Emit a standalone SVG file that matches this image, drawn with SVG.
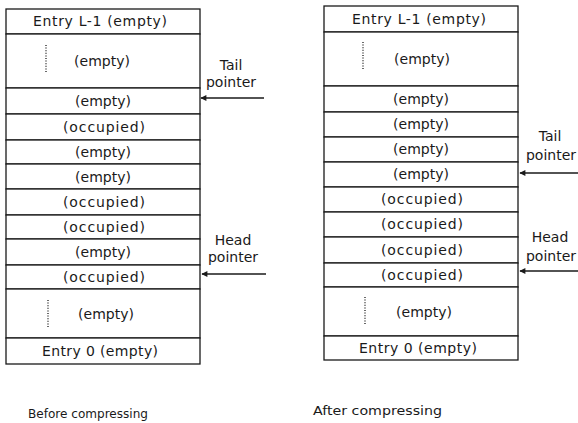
<svg xmlns="http://www.w3.org/2000/svg" width="578" height="423" viewBox="0 0 578 423">
  <style>
    .cell { fill: #ffffff; stroke: #1a1a1a; stroke-width: 1.3; }
    .lbl { font-family: "DejaVu Sans", "Liberation Sans", sans-serif; font-size: 14px; fill: #1a1a1a; text-anchor: middle; }
    .cap { font-family: "DejaVu Sans", "Liberation Sans", sans-serif; font-size: 13px; fill: #1a1a1a; }
    .dots { stroke: #1a1a1a; stroke-width: 1.3; stroke-dasharray: 1 1.6; fill: none; }
    .ptr { stroke: #1a1a1a; stroke-width: 1.4; fill: none; marker-end: url(#head); }
  </style>
  <defs>
    <marker id="head" viewBox="0 0 10 10" refX="9" refY="5" markerWidth="7" markerHeight="6" markerUnits="userSpaceOnUse" orient="auto">
      <path d="M0,0 L10,5 L0,10 z" fill="#1a1a1a"/>
    </marker>
  </defs>
  <rect width="578" height="423" fill="#ffffff"/>

  <!-- queue before compressing -->
  <g id="before">
    <g id="b-top"><rect class="cell" x="6" y="9" width="194" height="25"/><text class="lbl" x="100" y="26" textLength="134" lengthAdjust="spacing">Entry L-1 (empty)</text></g>
    <g id="b-gap-hi"><rect class="cell" x="6" y="34" width="194" height="54"/><line class="dots" x1="46" y1="45" x2="46" y2="73"/><text class="lbl" x="102" y="66">(empty)</text></g>
    <g id="b-r9"><rect class="cell" x="6" y="88" width="194" height="26"/><text class="lbl" x="103" y="106">(empty)</text></g>
    <g id="b-r8"><rect class="cell" x="6" y="114" width="194" height="26"/><text class="lbl" x="104" y="132" textLength="82" lengthAdjust="spacing">(occupied)</text></g>
    <g id="b-r7"><rect class="cell" x="6" y="140" width="194" height="24"/><text class="lbl" x="103" y="157">(empty)</text></g>
    <g id="b-r6"><rect class="cell" x="6" y="164" width="194" height="25"/><text class="lbl" x="103" y="182">(empty)</text></g>
    <g id="b-r5"><rect class="cell" x="6" y="189" width="194" height="26"/><text class="lbl" x="104" y="207" textLength="82" lengthAdjust="spacing">(occupied)</text></g>
    <g id="b-r4"><rect class="cell" x="6" y="215" width="194" height="24"/><text class="lbl" x="104" y="232" textLength="82" lengthAdjust="spacing">(occupied)</text></g>
    <g id="b-r3"><rect class="cell" x="6" y="239" width="194" height="26"/><text class="lbl" x="103" y="257">(empty)</text></g>
    <g id="b-r2"><rect class="cell" x="6" y="265" width="194" height="24"/><text class="lbl" x="104" y="282" textLength="82" lengthAdjust="spacing">(occupied)</text></g>
    <g id="b-gap-lo"><rect class="cell" x="6" y="289" width="194" height="49"/><line class="dots" x1="48" y1="300" x2="48" y2="328"/><text class="lbl" x="106" y="319">(empty)</text></g>
    <g id="b-bottom"><rect class="cell" x="6" y="338" width="194" height="26"/><text class="lbl" x="100" y="356" textLength="116" lengthAdjust="spacing">Entry 0 (empty)</text></g>
  </g>

  <!-- queue after compressing -->
  <g id="after">
    <g id="a-top"><rect class="cell" x="324" y="6" width="194" height="26"/><text class="lbl" x="419" y="24" textLength="134" lengthAdjust="spacing">Entry L-1 (empty)</text></g>
    <g id="a-gap-hi"><rect class="cell" x="324" y="32" width="194" height="54"/><line class="dots" x1="363" y1="42" x2="363" y2="70"/><text class="lbl" x="422" y="64">(empty)</text></g>
    <g id="a-r9"><rect class="cell" x="324" y="86" width="194" height="26"/><text class="lbl" x="421" y="104">(empty)</text></g>
    <g id="a-r8"><rect class="cell" x="324" y="112" width="194" height="25"/><text class="lbl" x="421" y="129">(empty)</text></g>
    <g id="a-r7"><rect class="cell" x="324" y="137" width="194" height="25"/><text class="lbl" x="421" y="154">(empty)</text></g>
    <g id="a-r6"><rect class="cell" x="324" y="162" width="194" height="25"/><text class="lbl" x="421" y="179">(empty)</text></g>
    <g id="a-r5"><rect class="cell" x="324" y="187" width="194" height="25"/><text class="lbl" x="422" y="204" textLength="82" lengthAdjust="spacing">(occupied)</text></g>
    <g id="a-r4"><rect class="cell" x="324" y="212" width="194" height="25"/><text class="lbl" x="422" y="229" textLength="82" lengthAdjust="spacing">(occupied)</text></g>
    <g id="a-r3"><rect class="cell" x="324" y="237" width="194" height="26"/><text class="lbl" x="422" y="255" textLength="82" lengthAdjust="spacing">(occupied)</text></g>
    <g id="a-r2"><rect class="cell" x="324" y="263" width="194" height="24"/><text class="lbl" x="422" y="280" textLength="82" lengthAdjust="spacing">(occupied)</text></g>
    <g id="a-gap-lo"><rect class="cell" x="324" y="287" width="194" height="49"/><line class="dots" x1="365" y1="297" x2="365" y2="325"/><text class="lbl" x="424" y="317">(empty)</text></g>
    <g id="a-bottom"><rect class="cell" x="324" y="336" width="194" height="24"/><text class="lbl" x="418" y="353" textLength="118" lengthAdjust="spacing">Entry 0 (empty)</text></g>
  </g>

  <!-- pointer labels -->
  <g id="b-tail-label"><text class="lbl" x="231" y="70">Tail</text><text class="lbl" x="231" y="87">pointer</text></g>
  <g id="b-head-label"><text class="lbl" x="233" y="245">Head</text><text class="lbl" x="233" y="262">pointer</text></g>
  <g id="a-tail-label"><text class="lbl" x="550" y="141">Tail</text><text class="lbl" x="551" y="160">pointer</text></g>
  <g id="a-head-label"><text class="lbl" x="550" y="242">Head</text><text class="lbl" x="551" y="261">pointer</text></g>

  <!-- pointer arrows -->
  <g id="connectors">
    <line class="ptr" x1="264" y1="98" x2="201" y2="98"/>
    <line class="ptr" x1="266" y1="274" x2="202" y2="274"/>
    <line class="ptr" x1="578" y1="173" x2="520" y2="173"/>
    <line class="ptr" x1="578" y1="271" x2="520" y2="271"/>
  </g>

  <!-- captions -->
  <text class="cap" x="28" y="418" textLength="120" lengthAdjust="spacingAndGlyphs">Before compressing</text>
  <text class="cap" x="313" y="415" textLength="129" lengthAdjust="spacingAndGlyphs">After compressing</text>
</svg>
